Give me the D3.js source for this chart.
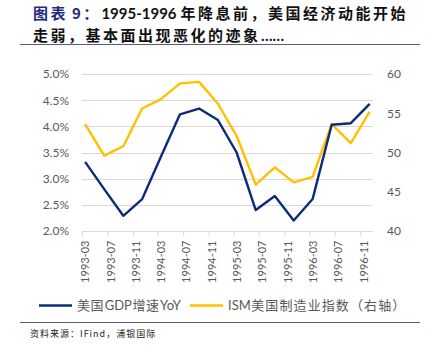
<!DOCTYPE html>
<html><head><meta charset="utf-8">
<script src="https://cdn.jsdelivr.net/npm/d3@7"></script>
<style>
body{margin:0;background:#fff;}
svg{display:block;}
</style></head>
<body>
<svg id="c" width="431" height="353"></svg>
<script>
const dates = ["1993-03","1993-06","1993-09","1993-12","1994-03","1994-06","1994-09","1994-12","1995-03","1995-06","1995-09","1995-12","1996-03","1996-06","1996-09","1996-12"];
const gdpYoY = [3.32,2.80,2.29,2.61,3.42,4.23,4.34,4.12,3.50,2.40,2.67,2.20,2.61,4.03,4.06,4.43];
const ismPMI = [53.6,49.6,50.8,55.6,56.8,58.8,59.0,56.2,52.1,45.9,48.1,46.2,46.9,53.6,51.2,55.2];
const tickLabels = ["1993-03","1993-07","1993-11","1994-03","1994-07","1994-11","1995-03","1995-07","1995-11","1996-03","1996-07","1996-11"];
const leftTicks = [2.0,2.5,3.0,3.5,4.0,4.5,5.0];
const rightTicks = [40,45,50,55,60];
const seriesNames = [["美国","GDP","增速","YoY"],["ISM","美国制造业指数（右轴）"]];

const svg = d3.select("#c");
const font = "Lato, 'Noto Sans CJK SC', sans-serif";
const cjk = "'Noto Sans CJK SC', Lato, sans-serif";
const blue = "#0B2C7A", yellow = "#FFC000", grid = "#D9D9D9", txt = "#595959";
const isCJK = s => /[\u3000-\u9fff\uff00-\uffef]/.test(s);

// place a run of text pieces one after another as separate text elements
function runText(x0, y, parts, common) {
  let x = x0;
  parts.forEach(p => {
    const t = svg.append("text").attr("x", x).attr("y", y)
      .attr("font-size", common.size).attr("font-weight", common.weight || "normal")
      .attr("fill", p.fill || common.fill).attr("font-family", p.family)
      .attr("letter-spacing", p.ls || 0);
    if (common.dy) t.attr("dy", common.dy);
    t.text(p.text);
    const w = t.node().getComputedTextLength();
    x += w + (p.gap || 1);
  });
}

// Title
runText(33, 19, [
  {text: "图表", family: cjk, ls: 2.5, fill: "#1F2A80", gap: 4},
  {text: "9：", family: cjk, ls: 2.5, fill: "#1F2A80", gap: 0.5},
  {text: "1995-1996", family: font, gap: 4},
  {text: "年降息前，美国经济动能开始", family: cjk, ls: 2.5}
], {size: 15, weight: "bold", fill: "#111"});
runText(33, 41, [
  {text: "走弱，基本面出现恶化的迹象", family: cjk, ls: 2.5, gap: 0.5},
  {text: "……", family: font}
], {size: 15, weight: "bold", fill: "#111"});
svg.append("line").attr("x1", 20).attr("x2", 420).attr("y1", 44.5).attr("y2", 44.5)
  .attr("stroke", "#5A5A8A").attr("stroke-width", 1);

const L = 82, R = 373, T = 74, B = 231;
const parse = d3.timeParse("%Y-%m");
const x = d3.scaleTime().domain([parse("1993-03"), parse("1997-01")]).range([L, R]);
const mid = s => { const d = parse(s); return x(new Date(d.getFullYear(), d.getMonth(), 16)); };
const yL = d3.scaleLinear().domain([2.0, 5.0]).range([B, T]);
const yR = d3.scaleLinear().domain([40, 60]).range([B, T]);

// gridlines
svg.append("g").selectAll("line").data(leftTicks.slice(1)).join("line")
  .attr("x1", L).attr("x2", R).attr("y1", d => Math.round(yL(d)) + 0.5).attr("y2", d => Math.round(yL(d)) + 0.5)
  .attr("stroke", grid).attr("stroke-width", 1);

// x axis
const xAxis = d3.axisBottom(x).tickValues(tickLabels.map(parse)).tickSize(5).tickFormat(d3.timeFormat("%Y-%m"));
const gx = svg.append("g").attr("transform", `translate(0,${B + 0.5})`).call(xAxis);
gx.select(".domain").attr("stroke", grid).attr("d", `M${L},0H${R}`);
gx.selectAll(".tick line").attr("stroke", grid);
gx.selectAll(".tick text").attr("font-family", font).attr("font-size", 11).attr("fill", txt)
  .attr("transform", "rotate(-90)").attr("text-anchor", "end").attr("x", -9).attr("y", 3).attr("dy", "0.35em");
gx.selectAll(".tick").attr("transform", function(d){ return `translate(${x(d)+0.5},0)`; });

// left axis
const gl = svg.append("g").attr("transform", `translate(${L},0)`)
  .call(d3.axisLeft(yL).tickValues(leftTicks).tickSize(0).tickPadding(13).tickFormat(d => d.toFixed(1) + "%"));
gl.select(".domain").remove();
gl.selectAll("text").attr("font-family", font).attr("font-size", 12).attr("fill", txt);

// right axis
const gr = svg.append("g").attr("transform", `translate(${R},0)`)
  .call(d3.axisRight(yR).tickValues(rightTicks).tickSize(0).tickPadding(14));
gr.select(".domain").remove();
gr.selectAll("text").attr("font-family", font).attr("font-size", 12).attr("fill", txt);

// lines
const lineL = d3.line().x((d, i) => mid(dates[i])).y(d => yL(d));
const lineR = d3.line().x((d, i) => mid(dates[i])).y(d => yR(d));
svg.append("path").datum(ismPMI).attr("d", lineR).attr("fill", "none").attr("stroke", yellow).attr("stroke-width", 2.4).attr("stroke-linejoin", "round");
svg.append("path").datum(gdpYoY).attr("d", lineL).attr("fill", "none").attr("stroke", blue).attr("stroke-width", 2.4).attr("stroke-linejoin", "round");

// legend
const items = [{x: 39, c: blue, t: seriesNames[0], ls: 0.6}, {x: 190, c: yellow, t: seriesNames[1], ls: 1.1}];
items.forEach(it => {
  svg.append("line").attr("x1", it.x).attr("x2", it.x + 33).attr("y1", 305.5).attr("y2", 305.5).attr("stroke", it.c).attr("stroke-width", 2.4);
  runText(it.x + 38, 305.5, it.t.map(p => ({text: p, family: isCJK(p) ? cjk : font, ls: isCJK(p) ? it.ls : 0, gap: 0.5})),
    {size: 13, fill: txt, dy: "0.35em"});
});

svg.append("line").attr("x1", 20).attr("x2", 420).attr("y1", 322.5).attr("y2", 322.5).attr("stroke", "#5A5A8A").attr("stroke-width", 1);
svg.append("text").attr("x", 30).attr("y", 337).attr("font-family", cjk).attr("font-size", 9).attr("letter-spacing", 1).attr("fill", "#222")
  .text("资料来源：IFind，浦银国际");
</script>
</body></html>
